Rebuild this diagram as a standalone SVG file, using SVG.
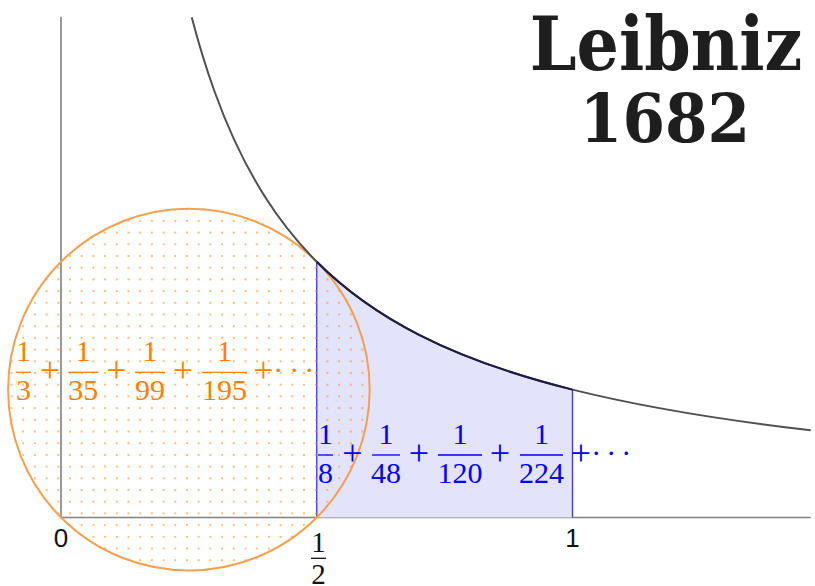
<svg xmlns="http://www.w3.org/2000/svg" width="815" height="586" viewBox="0 0 815 586">
<style>
.ax{stroke:#808080;stroke-width:1.6;fill:none}
.curve{stroke:#505050;stroke-width:2;fill:none}
.edge{stroke:#1c1c44;stroke-width:2;fill:none}
.region{fill:#e3e3fb;stroke:none}
.bl{stroke:#3535ff;stroke-width:1.3}
.circ{fill:url(#dots);stroke:#f5a04e;stroke-width:2}
.or{font-family:"Liberation Serif","DejaVu Serif",serif;font-size:30px;fill:#ff8000;text-anchor:middle}
.bu{font-family:"Liberation Serif","DejaVu Serif",serif;font-size:30px;fill:#0000ff;text-anchor:middle}
.pl{font-size:36px}
.dt{text-anchor:start}
.obar{stroke:#ff8000;stroke-width:1.3}
.bbar{stroke:#0000ff;stroke-width:1.3}
.lab{font-family:"Liberation Sans",Arial,sans-serif;font-size:26px;fill:#111;text-anchor:middle}
.labs{font-family:"Liberation Serif","DejaVu Serif",serif;font-size:29px;fill:#111;text-anchor:middle}
.title{font-family:"DejaVu Serif Condensed","DejaVu Serif",serif;font-weight:bold;fill:#1e1e1e;text-anchor:middle}
</style>
<defs>
<pattern id="dots" patternUnits="userSpaceOnUse" x="64.15" y="250.15" width="11.7" height="11.7">
<rect x="5.1" y="5.1" width="1.5" height="1.5" fill="#ff8c1a"/>
</pattern>
</defs>
<rect width="815" height="586" fill="#ffffff"/>
<g id="axes">
<path class="ax" d="M61,16.7 V517.5 H810.7"/>
</g>
<g id="region">
<path class="region" d="M316.75,517.5 L316.75,261.75 C350.85,295.85 384.95,317.42 419.05,334.82 C470.2,360.92 521.35,376.84 572.5,389.625 L572.5,517.5 Z"/>
<line class="bl" x1="316.75" y1="261.75" x2="316.75" y2="517.5"/>
<line class="bl" x1="572.5" y1="389.6" x2="572.5" y2="517.5"/>
</g>
<g id="circle">
<circle class="circ" cx="188.9" cy="389.6" r="180.8"/>
</g>
<g id="curve">
<path class="curve" d="M191.74,17.21 C199.31,46.18 206.88,70.22 214.45,91.25 C231.5,138.61 248.55,171.17 265.6,197.81 C282.65,224.45 299.7,244.7 316.75,261.75 C350.85,295.85 384.95,317.42 419.05,334.82 C470.2,360.92 521.35,376.84 572.5,389.625 C652.07,409.52 731.63,421.06 810.7,430.3"/>
<path class="edge" d="M316.75,261.75 C350.85,295.85 384.95,317.42 419.05,334.82 C470.2,360.92 521.35,376.84 572.5,389.625"/>
</g>
<g id="orange-series">
<text class="or" x="23.5" y="361">1</text>
<line class="obar" x1="16" y1="372.3" x2="31" y2="372.3"/>
<text class="or" x="23.5" y="400">3</text>
<text class="or pl" x="50" y="381.5">+</text>
<text class="or" x="83.3" y="361">1</text>
<line class="obar" x1="68.3" y1="372.3" x2="98.3" y2="372.3"/>
<text class="or" x="83.3" y="400">35</text>
<text class="or pl" x="116.5" y="381.5">+</text>
<text class="or" x="150" y="361">1</text>
<line class="obar" x1="135" y1="372.3" x2="165" y2="372.3"/>
<text class="or" x="150" y="400">99</text>
<text class="or pl" x="183" y="381.5">+</text>
<text class="or" x="224.5" y="361">1</text>
<line class="obar" x1="202" y1="372.3" x2="247" y2="372.3"/>
<text class="or" x="224.5" y="400">195</text>
<text class="or pl" x="263.5" y="381.5">+</text>
<text class="or dt" x="273.3 289.3 304.3" y="379.5">···</text>
</g>
<g id="blue-series">
<text class="bu" x="325.5" y="443.7">1</text>
<line class="bbar" x1="318" y1="455" x2="333" y2="455"/>
<text class="bu" x="325.5" y="483.3">8</text>
<text class="bu pl" x="352.5" y="465">+</text>
<text class="bu" x="386" y="443.7">1</text>
<line class="bbar" x1="372" y1="455" x2="400" y2="455"/>
<text class="bu" x="386" y="483.3">48</text>
<text class="bu pl" x="419" y="465">+</text>
<text class="bu" x="460" y="443.7">1</text>
<line class="bbar" x1="438" y1="455" x2="482" y2="455"/>
<text class="bu" x="460" y="483.3">120</text>
<text class="bu pl" x="500" y="465">+</text>
<text class="bu" x="541.5" y="443.7">1</text>
<line class="bbar" x1="520" y1="455" x2="563" y2="455"/>
<text class="bu" x="541.5" y="483.3">224</text>
<text class="bu pl" x="581" y="465">+</text>
<text class="bu dt" x="591.3 606.3 621.3" y="462.8">···</text>
</g>
<g id="axis-labels">
<text class="lab" x="61" y="547">0</text>
<text class="lab" x="572.5" y="547">1</text>
<text class="labs" x="318.5" y="551.7">1</text>
<line x1="311" y1="558.3" x2="326" y2="558.3" stroke="#111" stroke-width="1.3"/>
<text class="labs" x="318.5" y="584">2</text>
</g>
<g id="title">
<text class="title" x="666" y="70" font-size="74">Leibniz</text>
<text class="title" x="665" y="142" font-size="68">1682</text>
</g>
</svg>
